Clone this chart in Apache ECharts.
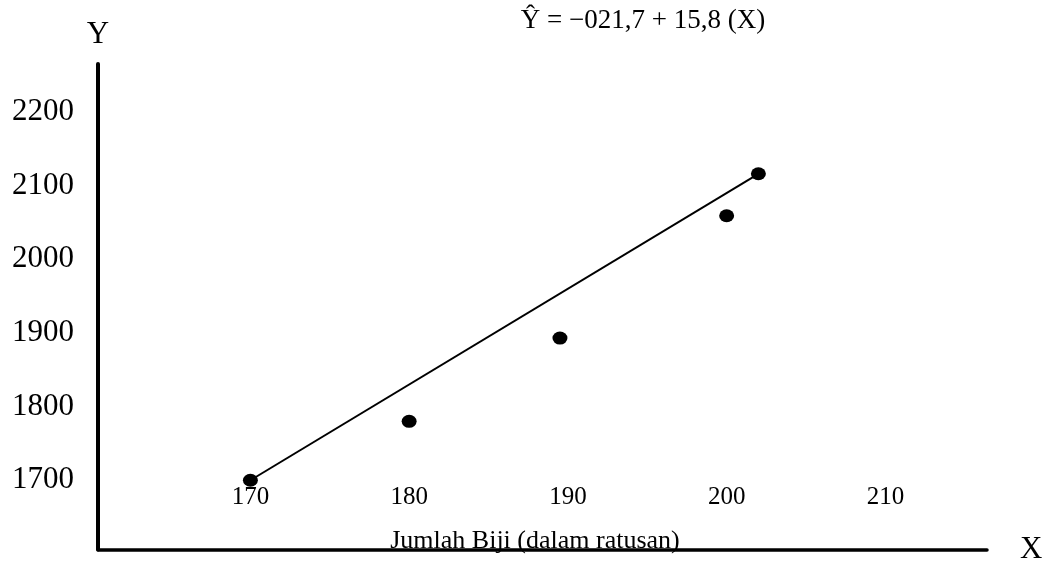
<!DOCTYPE html>
<html>
<head>
<meta charset="utf-8">
<script src="https://cdn.jsdelivr.net/npm/echarts@6/dist/echarts.min.js"></script>
<style>
  html, body { margin: 0; padding: 0; background: #fff; }
  #chart { width: 1048px; height: 565px; }
</style>
</head>
<body>
<div id="chart"></div>
<script>
// titik pengamatan (jumlah biji, Y)
const xValues = [170, 180, 189.5, 200, 202];
const yValues = [1700, 1780, 1893, 2059, 2116];

// garis regresi
const lineX = [170, 202];
const lineY = [1700, 2116];

// label sumbu
const xTicks = [170, 180, 190, 200, 210];
const yTicks = [1700, 1800, 1900, 2000, 2100, 2200];

const serif = '"Liberation Serif", "Times New Roman", serif';

const chart = echarts.init(document.getElementById('chart'));

const points = xValues.map((x, i) => [x, yValues[i]]);
const regLine = lineX.map((x, i) => [x, lineY[i]]);

const options = {
  animation: false,
  grid: { left: 98, right: 61, top: 64, bottom: 13.5 },
  xAxis: {
    type: 'value',
    min: 160.4,
    max: 216.4,
    name: 'X',
    nameLocation: 'end',
    nameGap: 33,
    nameTextStyle: { color: '#000', fontFamily: serif, fontSize: 31 },
    axisLine: { show: true, onZero: false, lineStyle: { color: '#000', width: 3.5 } },
    axisTick: { show: false },
    splitLine: { show: false },
    axisLabel: {
      inside: true,
      margin: 40,
      customValues: xTicks,
      formatter: v => String(v),
      color: '#000',
      fontFamily: serif,
      fontSize: 25
    }
  },
  yAxis: {
    type: 'value',
    min: 1606,
    max: 2265,
    name: 'Y',
    nameLocation: 'end',
    nameGap: 14,
    nameTextStyle: { color: '#000', fontFamily: serif, fontSize: 31, align: 'center' },
    axisLine: { show: true, onZero: false, lineStyle: { color: '#000', width: 4 } },
    axisTick: { show: false },
    splitLine: { show: false },
    axisLabel: {
      margin: 24,
      customValues: yTicks,
      formatter: v => String(v),
      color: '#000',
      fontFamily: serif,
      fontSize: 31
    }
  },
  graphic: [
    {
      type: 'text',
      x: 643,
      y: 21,
      style: {
        text: 'Ŷ = −021,7 + 15,8 (X)',
        fill: '#000',
        font: '27px ' + serif,
        align: 'center',
        verticalAlign: 'middle'
      }
    },
    {
      type: 'text',
      x: 535,
      y: 541,
      style: {
        text: 'Jumlah Biji (dalam ratusan)',
        fill: '#000',
        font: '26px ' + serif,
        align: 'center',
        verticalAlign: 'middle'
      }
    }
  ],
  series: [
    {
      type: 'line',
      data: regLine,
      symbol: 'none',
      lineStyle: { color: '#000', width: 2 }
    },
    {
      type: 'scatter',
      data: points,
      symbol: 'circle',
      symbolSize: [15, 13],
      itemStyle: { color: '#000', opacity: 1 }
    }
  ]
};

chart.setOption(options);
</script>
</body>
</html>
